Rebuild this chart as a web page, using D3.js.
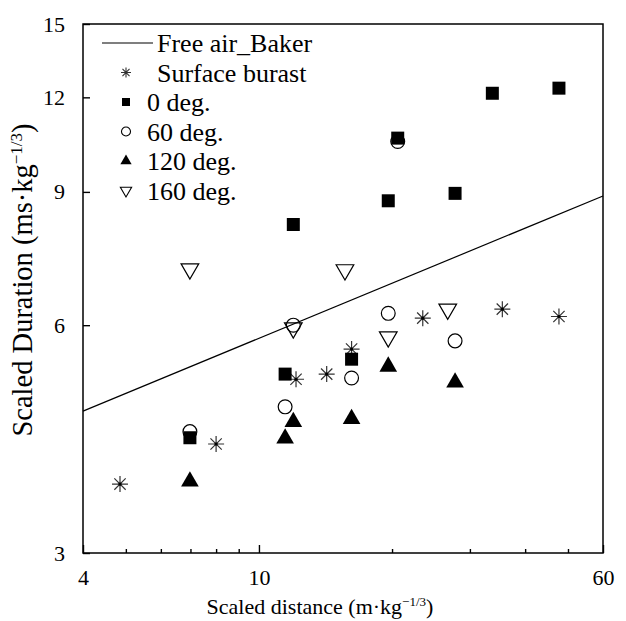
<!DOCTYPE html>
<html>
<head>
<meta charset="utf-8">
<script src="https://cdn.jsdelivr.net/npm/d3@7"></script>
<style>
  body { margin: 0; background: #fff; }
  svg { display: block; }
</style>
</head>
<body>
<div id="corpo"></div>
<script>
// baker line (free air) - two ends of the straight line in log-log
var bakerX = [4, 60];
var bakerY = [4.62, 8.89];

// surface burast
var surfX = [4.85, 8.0, 12.13, 14.23, 16.2, 23.47, 35.52, 47.7];
var surfY = [3.70, 4.18, 5.09, 5.17, 5.58, 6.13, 6.30, 6.16];

// 0 deg.
var deg0X = [6.98, 11.46, 11.96, 16.2, 19.61, 20.6, 27.77, 33.72, 47.7];
var deg0Y = [4.26, 5.17, 8.15, 5.41, 8.76, 10.6, 8.96, 12.15, 12.34];

// 60 deg.
var deg60X = [6.98, 11.96, 11.46, 16.2, 19.61, 20.6, 27.77];
var deg60Y = [4.34, 6.00, 4.68, 5.11, 6.22, 10.49, 5.72];

// 120 deg.
var deg120X = [6.98, 11.46, 11.96, 16.2, 19.61, 27.77];
var deg120Y = [3.73, 4.25, 4.47, 4.51, 5.29, 5.04];

// 160 deg.
var deg160X = [6.98, 11.96, 15.65, 19.61, 26.73];
var deg160Y = [7.12, 5.95, 7.10, 5.79, 6.30];

var xMajor = [4, 10, 60];
var xMinor = [5, 6, 7, 8, 9, 20, 30, 40, 50];
var yTicks = [3, 6, 9, 12, 15];

var fontFam = "'Liberation Serif'";

var width = 626, height = 621;
var margin = {top: 24, right: 23, bottom: 68, left: 83};

var svg = d3.select("#corpo").append("svg")
	.attr("width", width)
	.attr("height", height)
	.style("font-family", fontFam);

var x = d3.scaleLog().domain([4, 60]).range([margin.left, width - margin.right]);
var y = d3.scaleLog().domain([3, 15]).range([height - margin.bottom, margin.top]);

// 8 arm star
var star = {
	draw: function(context, size) {
		var r = Math.sqrt(size) / 2;
		var d = r * Math.SQRT1_2;
		context.moveTo(0, -r); context.lineTo(0, r);
		context.moveTo(-r, 0); context.lineTo(r, 0);
		context.moveTo(-d, -d); context.lineTo(d, d);
		context.moveTo(-d, d); context.lineTo(d, -d);
	}
};

/*=== eixos ===*/
var x0 = margin.left, x1 = width - margin.right;
var y0 = margin.top, y1 = height - margin.bottom;

svg.append("g")
	.attr("transform", "translate(0," + y1 + ")")
	.call(d3.axisBottom(x).tickValues(xMinor).tickSize(-4).tickSizeOuter(0).tickFormat(""))
	.call(function(g){ g.select(".domain").remove(); });

svg.append("g")
	.attr("transform", "translate(0," + y1 + ")")
	.call(d3.axisBottom(x).tickValues(xMajor).tickSize(-8).tickSizeOuter(0).tickPadding(16).tickFormat(d3.format("d")))
	.call(function(g){ g.select(".domain").remove(); });

svg.append("g")
	.attr("transform", "translate(" + x0 + ",0)")
	.call(d3.axisLeft(y).tickValues(yTicks).tickSize(-7).tickSizeOuter(0).tickPadding(18).tickFormat(d3.format("d")))
	.call(function(g){ g.select(".domain").remove(); });

svg.selectAll(".tick line").attr("stroke", "#000").attr("stroke-width", 1.4);
svg.selectAll(".tick text")
	.style("font-family", fontFam)
	.style("font-size", "22px")
	.attr("fill", "#000");

// frame
svg.append("rect")
	.attr("x", x0).attr("y", y0)
	.attr("width", x1 - x0).attr("height", y1 - y0)
	.attr("fill", "none")
	.attr("stroke", "#000")
	.attr("stroke-width", 1.5);

/*=== linha baker ===*/
var line = d3.line()
	.x(function(d) { return x(d[0]); })
	.y(function(d) { return y(d[1]); });

svg.append("path")
	.datum(d3.zip(bakerX, bakerY))
	.attr("d", line)
	.attr("fill", "none")
	.attr("stroke", "#000")
	.attr("stroke-width", 1.2);

/*=== pontos ===*/
var series = [
	{name: "Surface burast", xs: surfX, ys: surfY, type: star, size: 256, fill: "none", stroke: "#333", rot: 0, leg: 100},
	{name: "0 deg.", xs: deg0X, ys: deg0Y, type: d3.symbolSquare, size: 169, fill: "#000", stroke: "none", rot: 0, leg: 64},
	{name: "60 deg.", xs: deg60X, ys: deg60Y, type: d3.symbolCircle, size: 150, fill: "none", stroke: "#000", rot: 0, leg: 64},
	{name: "120 deg.", xs: deg120X, ys: deg120Y, type: d3.symbolTriangle, size: 135, fill: "#000", stroke: "none", rot: 0, leg: 55},
	{name: "160 deg.", xs: deg160X, ys: deg160Y, type: d3.symbolTriangle, size: 135, fill: "none", stroke: "#000", rot: 180, leg: 55}
];

series.forEach(function(s) {
	var pts = d3.zip(s.xs, s.ys);
	var g = svg.append("g");
	g.selectAll("path")
		.data(pts)
		.enter().append("path")
		.attr("transform", function(d) { return "translate(" + x(d[0]) + "," + y(d[1]) + ") rotate(" + s.rot + ")"; })
		.attr("d", d3.symbol().type(s.type).size(s.size))
		.attr("fill", s.fill)
		.attr("stroke", s.stroke)
		.attr("stroke-width", 1.2);
	if (s.type === star) {
		g.selectAll("circle")
			.data(pts)
			.enter().append("circle")
			.attr("cx", function(d) { return x(d[0]); })
			.attr("cy", function(d) { return y(d[1]); })
			.attr("r", 1.6)
			.attr("fill", "#000");
	}
});

/*=== legenda ===*/
var leg = svg.append("g");
var legTop = 43, legStep = 29.5;

leg.append("line")
	.attr("x1", 102).attr("x2", 153)
	.attr("y1", legTop).attr("y2", legTop)
	.attr("stroke", "#000").attr("stroke-width", 1.2);
leg.append("text")
	.attr("x", 157).attr("y", legTop + 9)
	.style("font-family", fontFam)
	.style("font-size", "26px")
	.text("Free air_Baker");

series.forEach(function(s, i) {
	var cy = legTop + legStep * (i + 1);
	leg.append("path")
		.attr("transform", "translate(126," + cy + ") rotate(" + s.rot + ")")
		.attr("d", d3.symbol().type(s.type).size(s.leg))
		.attr("fill", s.fill)
		.attr("stroke", s.stroke)
		.attr("stroke-width", 1.1);
	leg.append("text")
		.attr("x", i === 0 ? 157 : 147).attr("y", cy + 9)
		.style("font-family", fontFam)
		.style("font-size", "26px")
		.text(s.name);
});

/*=== títulos ===*/
var xt = svg.append("text")
	.attr("x", 320).attr("y", 614)
	.attr("text-anchor", "middle")
	.style("font-family", fontFam)
	.style("font-size", "22px");
xt.append("tspan").text("Scaled distance (m\u00b7kg");
xt.append("tspan").attr("dy", -8).style("font-size", "13px").text("\u22121/3");
xt.append("tspan").attr("dy", 8).text(")");

var yt = svg.append("text")
	.attr("transform", "translate(32,280) rotate(-90)")
	.attr("text-anchor", "middle")
	.style("font-family", fontFam)
	.style("font-size", "28.5px");
yt.append("tspan").text("Scaled Duration (ms\u00b7kg");
yt.append("tspan").attr("dy", -10).style("font-size", "17px").text("\u22121/3");
yt.append("tspan").attr("dy", 10).text(")");
</script>
</body>
</html>
